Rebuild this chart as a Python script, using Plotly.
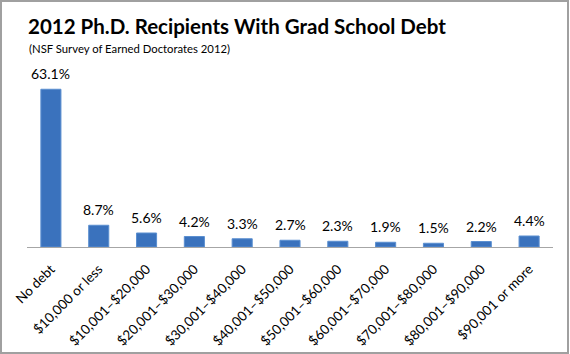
import plotly.graph_objects as go

categories = ["No debt", "$10,000 or less", "$10,001–$20,000", "$20,001–$30,000",
              "$30,001–$40,000", "$40,001–$50,000", "$50,001–$60,000", "$60,001–$70,000",
              "$70,001–$80,000", "$80,001–$90,000", "$90,001 or more"]
values = [63.1, 8.7, 5.6, 4.2, 3.3, 2.7, 2.3, 1.9, 1.5, 2.2, 4.4]
labels = [f"{v:.1f}%" for v in values]

W, H = 570, 354
L, R, T, B = 27, 17, 72, 107
pw, ph = W - L - R, H - T - B

def px_x(p):
    return (p - L) / pw

def px_y(p):
    return (H - B - p) / ph

FONT = "Lato"

fig = go.Figure(go.Bar(
    x=categories, y=values,
    marker=dict(color="#3a72bd", line=dict(color="#5b8fd0", width=1)),
    width=0.42,
))

annotations = [
    dict(x=c, y=v, text=t, xref="x", yref="y", showarrow=False,
         yanchor="bottom", yshift=5, font=dict(family=FONT, size=14, color="black"))
    for c, v, t in zip(categories, values, labels)
]
annotations += [
    dict(text="<b>2012 Ph.D. Recipients With Grad School Debt</b>",
         xref="paper", yref="paper", x=px_x(26), y=px_y(40),
         xanchor="left", yanchor="bottom", showarrow=False,
         font=dict(family=FONT, size=20.5, color="black")),
    dict(text="(NSF Survey of Earned Doctorates 2012)",
         xref="paper", yref="paper", x=px_x(27), y=px_y(40),
         xanchor="left", yanchor="top", showarrow=False,
         font=dict(family=FONT, size=11.3, color="black")),
]

fig.update_layout(
    width=W, height=H, margin=dict(l=L, r=R, t=T, b=B),
    paper_bgcolor="white", plot_bgcolor="white", showlegend=False,
    font=dict(family=FONT, color="black"),
    xaxis=dict(tickangle=-45, tickfont=dict(family=FONT, size=13.5, color="black"),
               showline=True, linecolor="#a6a6a6", linewidth=1, ticks="",
               showgrid=False, ticklabelstandoff=8, automargin=False),
    yaxis=dict(range=[0, 70], visible=False, showgrid=False, automargin=False),
    annotations=annotations,
    shapes=[dict(type="rect", xref="paper", yref="paper",
                 x0=px_x(1), x1=px_x(568), y0=px_y(353), y1=px_y(1),
                 line=dict(color="#a0a0a0", width=2))],
)

fig.write_html("out.html")
